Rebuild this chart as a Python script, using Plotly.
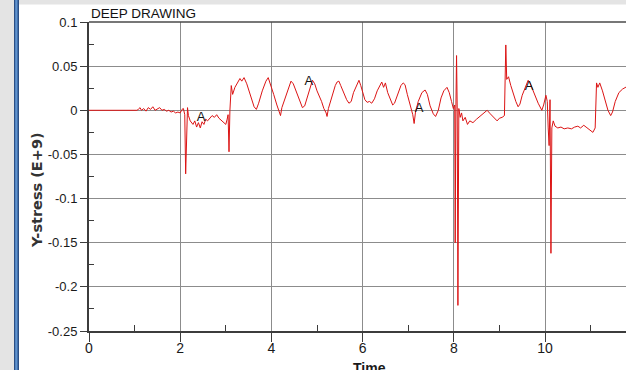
import plotly.graph_objects as go

# Y-stress history from the deep drawing run (stress in units of E+9)
time = [
    0.00, 1.05, 1.08, 1.12, 1.15, 1.20, 1.25, 1.30, 1.35, 1.40, 1.45, 1.50, 1.55, 1.60,
    1.65, 1.70, 1.75, 1.80, 1.85, 1.90, 1.95, 2.00, 2.04, 2.07, 2.10, 2.12, 2.14, 2.16,
    2.18, 2.22, 2.28, 2.32, 2.36, 2.40, 2.44, 2.48, 2.52, 2.56, 2.60, 2.65, 2.70, 2.75,
    2.80, 2.85, 2.90, 2.95, 3.00, 3.03, 3.05, 3.07, 3.09, 3.12, 3.15, 3.20, 3.26, 3.31,
    3.35, 3.40, 3.46, 3.55, 3.62, 3.67, 3.72, 3.80, 3.88, 3.93, 3.98, 4.05, 4.12, 4.18,
    4.20, 4.23, 4.30, 4.38, 4.43, 4.48, 4.55, 4.62, 4.68, 4.73, 4.80, 4.87, 4.90, 4.95,
    5.00, 5.10, 5.15, 5.20, 5.22, 5.25, 5.32, 5.40, 5.44, 5.48, 5.52, 5.58, 5.65, 5.70,
    5.75, 5.80, 5.88, 5.92, 5.96, 6.00, 6.05, 6.10, 6.15, 6.20, 6.26, 6.32, 6.38, 6.42,
    6.46, 6.50, 6.55, 6.62, 6.66, 6.70, 6.78, 6.84, 6.89, 6.93, 6.98, 7.05, 7.10, 7.13,
    7.16, 7.22, 7.30, 7.37, 7.42, 7.48, 7.55, 7.60, 7.66, 7.72, 7.78, 7.85, 7.90, 7.95,
    7.99, 8.02, 8.03, 8.045, 8.06, 8.075, 8.09, 8.11, 8.14, 8.17, 8.20, 8.25, 8.30, 8.35,
    8.42, 8.50, 8.60, 8.68, 8.73, 8.80, 8.88, 8.95, 9.00, 9.06, 9.11, 9.14, 9.16, 9.20,
    9.25, 9.30, 9.36, 9.41, 9.45, 9.50, 9.58, 9.63, 9.67, 9.75, 9.85, 9.93, 9.97, 10.02,
    10.05, 10.07, 10.09, 10.11, 10.13, 10.15, 10.18, 10.22, 10.28, 10.35, 10.42, 10.50,
    10.58, 10.65, 10.72, 10.78, 10.85, 10.90, 10.95, 11.00, 11.05, 11.10, 11.13, 11.16,
    11.20, 11.26, 11.32, 11.38, 11.44, 11.48, 11.54, 11.62, 11.70, 11.80,
]
y_stress = [
    0.000, 0.000, 0.001, 0.003, 0.000, 0.002, -0.001, 0.003, 0.001, 0.004, 0.000, 0.002, 0.003, 0.000,
    0.001, -0.001, 0.000, -0.002, -0.001, -0.003, -0.002, -0.003, 0.001, 0.002, -0.005, -0.072, -0.020, 0.003,
    -0.006, -0.012, -0.016, -0.012, -0.019, -0.014, -0.020, -0.013, -0.016, -0.010, -0.012, -0.009, -0.006, -0.008,
    -0.005, -0.009, -0.011, -0.013, -0.016, -0.010, -0.005, -0.047, 0.000, 0.028, 0.018, 0.026, 0.032, 0.036,
    0.033, 0.037, 0.030, 0.015, 0.004, 0.001, 0.008, 0.022, 0.033, 0.037, 0.030, 0.018, 0.006, -0.002,
    -0.006, 0.003, 0.014, 0.027, 0.033, 0.030, 0.020, 0.010, 0.003, 0.005, 0.018, 0.030, 0.034, 0.030,
    0.022, 0.010, 0.002, -0.003, -0.007, 0.002, 0.015, 0.028, 0.032, 0.033, 0.028, 0.020, 0.012, 0.008,
    0.010, 0.020, 0.030, 0.034, 0.028, 0.020, 0.012, 0.009, 0.010, 0.008, 0.013, 0.022, 0.028, 0.032,
    0.026, 0.031, 0.020, 0.010, 0.006, 0.008, 0.020, 0.028, 0.031, 0.029, 0.018, 0.005, -0.005, -0.015,
    -0.002, 0.010, 0.020, 0.023, 0.018, 0.005, -0.004, -0.007, 0.000, 0.014, 0.022, 0.026, 0.020, 0.010,
    0.002, 0.006, -0.150, 0.000, 0.062, 0.000, -0.221, 0.002, -0.008, -0.003, -0.012, -0.008, -0.016, -0.012,
    -0.014, -0.010, -0.006, -0.002, 0.000, -0.004, -0.008, -0.012, -0.009, -0.008, -0.006, 0.074, 0.035, 0.038,
    0.028, 0.019, 0.010, 0.004, 0.007, 0.017, 0.029, 0.034, 0.031, 0.020, 0.008, 0.000, 0.006, 0.017,
    0.010, -0.020, -0.040, 0.012, -0.162, -0.020, -0.012, -0.018, -0.020, -0.019, -0.021, -0.020,
    -0.021, -0.019, -0.018, -0.020, -0.017, -0.019, -0.021, -0.022, -0.025, -0.020, 0.031, 0.026,
    0.031, 0.022, 0.010, 0.000, -0.006, -0.002, 0.010, 0.020, 0.024, 0.027,
]

# "A" labels placed along the curve
label_time = [2.46, 4.82, 7.24, 9.65]
label_stress = [-0.008, 0.032, 0.002, 0.027]

x_ticks = [0, 2, 4, 6, 8, 10]
x_minor = [1, 3, 5, 7, 9, 11]
y_ticks = [0.1, 0.05, 0, -0.05, -0.1, -0.15, -0.2, -0.25]
y_tick_text = ["0.1", "0.05", "0", "-0.05", "-0.1", "-0.15", "-0.2", "-0.25"]
y_minor = [0.075, 0.025, -0.025, -0.075, -0.125, -0.175, -0.225]

W, H = 626, 370
ML, MR, MT, MB = 89, 0, 22, 39
PW, PH = W - ML - MR, H - MT - MB


def px_x(p):
    return (p - ML) / PW


def px_y(p):
    return (H - MB - p) / PH


SANS = "Liberation Sans, Arial"
AXIS = "#3c3c3c"
GRID = "#8c8c8c"

fig = go.Figure()
fig.add_trace(go.Scatter(
    x=time, y=y_stress, mode="lines",
    line=dict(color="#dc1414", width=1),
    hoverinfo="skip", showlegend=False,
))
fig.add_trace(go.Scatter(
    x=label_time, y=label_stress, mode="text", text=["A"] * len(label_time),
    textposition="middle center",
    textfont=dict(family=SANS, size=13, color="#111111"),
    hoverinfo="skip", showlegend=False,
))

fig.update_layout(
    width=W, height=H,
    margin=dict(l=ML, r=MR, t=MT, b=MB, pad=0),
    paper_bgcolor="white", plot_bgcolor="white",
    xaxis=dict(
        range=[0, 11.776], tickmode="array", tickvals=x_ticks,
        showgrid=True, gridcolor=GRID, gridwidth=1, zeroline=False,
        showline=True, linecolor=AXIS, linewidth=2,
        ticks="outside", ticklen=9, tickwidth=1, tickcolor=AXIS,
        ticklabelstandoff=-6,
        tickfont=dict(family=SANS, size=14, color="#1a1a1a"),
        minor=dict(tickmode="array", tickvals=x_minor, ticks="inside",
                   ticklen=6, tickwidth=1, tickcolor=AXIS, showgrid=False),
    ),
    yaxis=dict(
        range=[-0.25, 0.1], tickmode="array", tickvals=y_ticks, ticktext=y_tick_text,
        showgrid=True, gridcolor=GRID, gridwidth=1, zeroline=False,
        showline=True, linecolor=AXIS, linewidth=2,
        ticks="outside", ticklen=7, tickwidth=1, tickcolor=AXIS,
        tickfont=dict(family=SANS, size=13, color="#1a1a1a"),
        minor=dict(tickmode="array", tickvals=y_minor, ticks="inside",
                   ticklen=5, tickwidth=1, tickcolor=AXIS, showgrid=False),
    ),
    annotations=[
        dict(text="DEEP DRAWING", xref="paper", yref="paper", x=px_x(89), y=1,
             xanchor="left", yanchor="bottom", yshift=-1, showarrow=False,
             font=dict(family=SANS, size=13.5, color="#111111")),
        dict(text="Y-stress (E+9)", xref="paper", yref="paper", x=px_x(37), y=px_y(190),
             xanchor="center", yanchor="middle", textangle=-90, showarrow=False,
             font=dict(family="DejaVu Sans", size=14.5, color="#333333", weight="bold")),
        dict(text="Time", xref="paper", yref="paper", x=px_x(369), y=px_y(358),
             xanchor="center", yanchor="top", showarrow=False,
             font=dict(family=SANS, size=14, color="#1a1a1a", weight="bold")),
    ],
    shapes=[
        # top frame line of the plotting area
        dict(type="line", xref="paper", yref="paper", x0=0, x1=1, y0=1, y1=1,
             line=dict(color="#4a4a4a", width=1.5), layer="above"),
        # window chrome: grey strips and blue divider on the left
        dict(type="rect", xref="paper", yref="paper", x0=px_x(0), x1=px_x(14),
             y0=px_y(H), y1=px_y(0), fillcolor="#e4e4e4", line=dict(width=0)),
        dict(type="rect", xref="paper", yref="paper", x0=px_x(14), x1=px_x(W),
             y0=px_y(4.5), y1=px_y(0), fillcolor="#e4e4e4", line=dict(width=0)),
        dict(type="rect", xref="paper", yref="paper", x0=px_x(14), x1=px_x(19),
             y0=px_y(H), y1=px_y(0), fillcolor="#2a4f86", line=dict(width=0)),
        dict(type="rect", xref="paper", yref="paper", x0=px_x(15.2), x1=px_x(17.5),
             y0=px_y(H), y1=px_y(0), fillcolor="#5f93cf", line=dict(width=0)),
    ],
)

fig.write_html("out.html")
